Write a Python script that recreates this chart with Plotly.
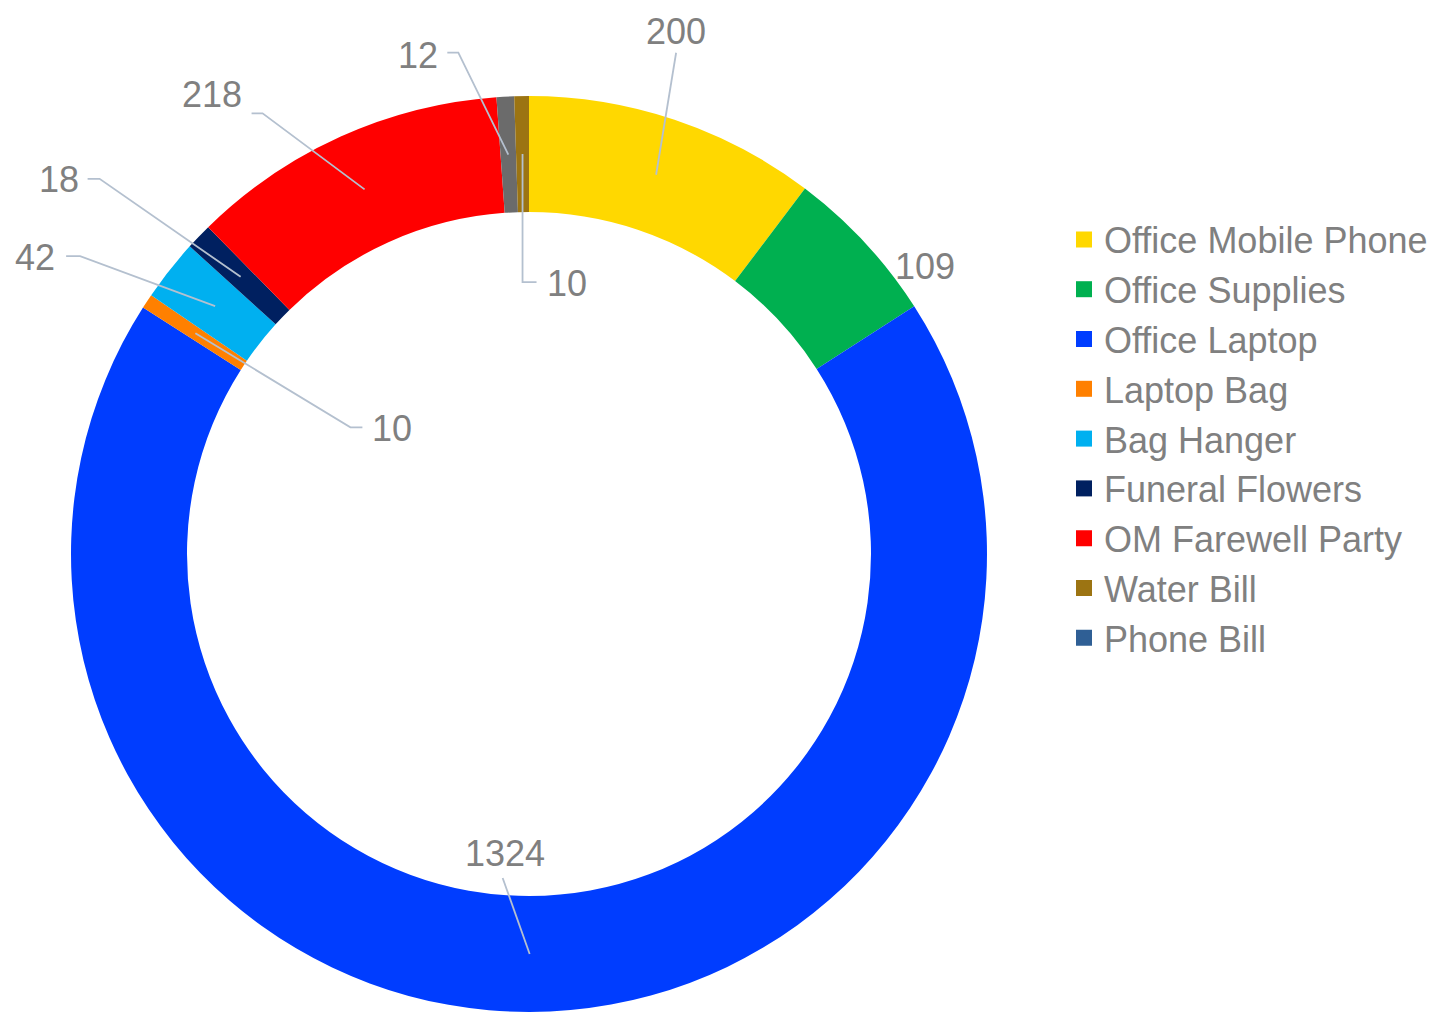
import math
import plotly.graph_objects as go

# ---------------- data ----------------
slice_labels = ["Office Mobile Phone", "Office Supplies", "Office Laptop", "Laptop Bag",
                "Bag Hanger", "Funeral Flowers", "OM Farewell Party", "Phone Bill", "Water Bill"]
slice_values = [200, 109, 1324, 10, 42, 18, 218, 12, 10]
slice_colors = ["#FFD800", "#00B050", "#003DFF", "#FF8000", "#00B0F0", "#002060",
                "#FF0000", "#6B6B6B", "#9C7412"]

legend_labels = ["Office Mobile Phone", "Office Supplies", "Office Laptop", "Laptop Bag",
                 "Bag Hanger", "Funeral Flowers", "OM Farewell Party", "Water Bill", "Phone Bill"]
legend_colors = ["#FFD800", "#00B050", "#003DFF", "#FF8000", "#00B0F0", "#002060",
                 "#FF0000", "#9C7412", "#2F5F95"]

# ---------------- layout / style ----------------
W, H = 1445, 1013
OX, OY = 8, 8          # page offset of the plot div (body margin)
CX, CY, R_OUT, R_IN = 529, 554, 458, 342
R_MID = (R_OUT + R_IN) / 2
LABEL_FONT = 36
LEGEND_FONT = 36
TEXT_COLOR = "#808080"
LEADER_COLOR = "#B4C0CF"

# label text offsets from the slice anchor (pixels) and leader-line points
label_text_offsets = [(20, -144), (103, -16), (-25, -101), (197, 95), (-180, -49),
                      (-182, -98), (-153, -95), (-90, -100), (44, 129)]
leader_points = [
    [(20, -122)],
    [],
    [(-27, -76)],
    [(155, 94), (167, 94)],
    [(-135, -50), (-149, -50)],
    [(-141, -98), (-153, -98)],
    [(-102, -76), (-113, -76)],
    [(-50, -102), (-61, -102)],
    [(0, 128), (14, 128)],
]


def px(x, y):
    return (x - OX) / W, 1 - (y - OY) / H


fig = go.Figure()
x0, y0 = px(CX - R_OUT, CY + R_OUT)
x1, y1 = px(CX + R_OUT, CY - R_OUT)
fig.add_trace(go.Pie(
    labels=slice_labels, values=slice_values, sort=False, direction="clockwise", rotation=0,
    hole=R_IN / R_OUT, textinfo="none", showlegend=False,
    marker=dict(colors=slice_colors, line=dict(width=0)),
    domain=dict(x=[x0, x1], y=[y0, y1]),
))

# legend entries
for name, col in zip(legend_labels, legend_colors):
    fig.add_trace(go.Scatter(x=[None], y=[None], mode="markers", name=name,
                             marker=dict(symbol="square", size=16, color=col)))

total = sum(slice_values)
cum = 0
annotations = []
shapes = []
for v, toff, pts in zip(slice_values, label_text_offsets, leader_points):
    mid = (cum + v / 2) / total * 2 * math.pi
    cum += v
    ax_ = CX + R_MID * math.sin(mid)
    ay_ = CY - R_MID * math.cos(mid)
    tx, ty = px(ax_ + toff[0], ay_ + toff[1])
    annotations.append(dict(x=tx, y=ty, xref="paper", yref="paper", text=str(v), showarrow=False,
                            xanchor="center", yanchor="middle", height=32, valign="middle",
                            font=dict(size=LABEL_FONT, color=TEXT_COLOR, family="Liberation Sans, Arial")))
    if pts:
        coords = [px(ax_, ay_)] + [px(ax_ + p[0], ay_ + p[1]) for p in pts]
        path = "M " + " L ".join(f"{a:.5f},{b:.5f}" for a, b in coords)
        shapes.append(dict(type="path", xref="paper", yref="paper", path=path,
                           line=dict(color=LEADER_COLOR, width=1.8)))

lx, ly = px(1064, 439)
fig.update_layout(
    width=W, height=H, margin=dict(l=0, r=0, t=0, b=0),
    paper_bgcolor="white", plot_bgcolor="white",
    xaxis=dict(visible=False), yaxis=dict(visible=False),
    annotations=annotations, shapes=shapes,
    legend=dict(x=lx, y=ly, xanchor="left", yanchor="middle",
                font=dict(size=LEGEND_FONT, color=TEXT_COLOR, family="Liberation Sans, Arial"),
                bgcolor="rgba(0,0,0,0)"),
    font=dict(family="Liberation Sans, Arial"),
)

fig.write_html("out.html")
